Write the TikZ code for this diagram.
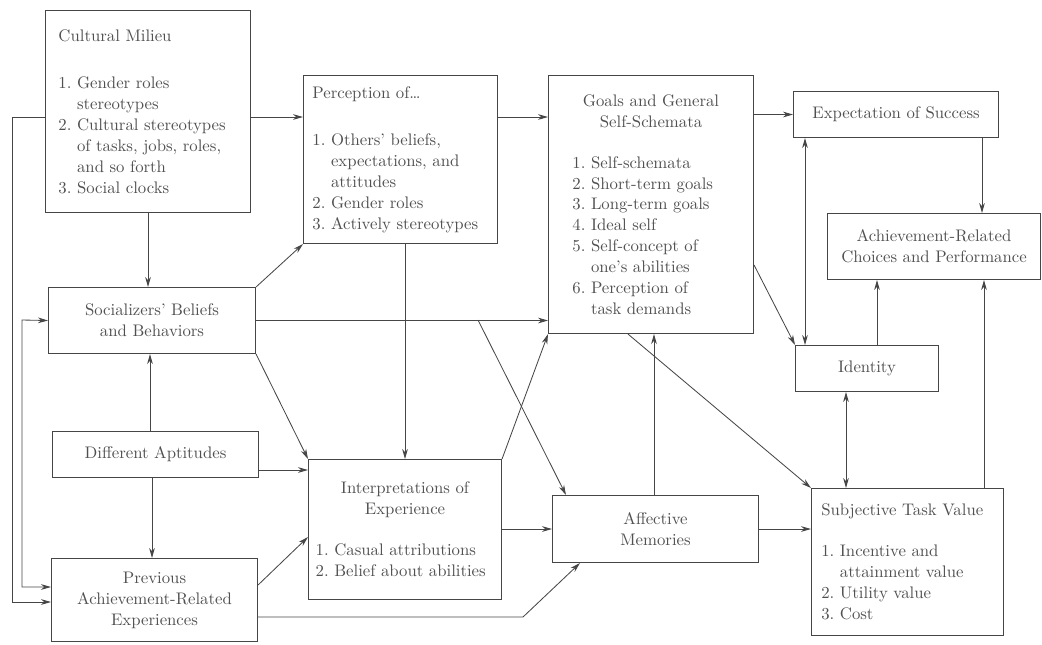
\documentclass[tikz,border=0pt]{standalone}
\usepackage{tikz}
\usetikzlibrary{arrows.meta,calc}
\definecolor{linegray}{RGB}{70,70,70}
\definecolor{textgray}{RGB}{80,80,80}

\begin{document}
\begin{tikzpicture}[x=0.021cm, y=-0.021cm,
  box/.style={draw=linegray, line width=0.6pt, inner sep=0pt, anchor=north west, text=textgray,
    font=\fontsize{10}{12.5}\selectfont\frenchspacing},
  arr/.style={draw=linegray, line width=0.5pt, -{Stealth[length=6pt,width=3.4pt]}},
  darr/.style={arr, {Stealth[length=6pt,width=3.4pt]}-{Stealth[length=6pt,width=3.4pt]}}]
\def\ind{\leavevmode\hphantom{1.}\ }
\useasboundingbox (0,0) rectangle (1042,644);

% Boxes (top left corners in pixels of the figure, y downwards)
\node[box, minimum width=4.305cm, minimum height=4.242cm, align=left, text width=3.76cm] (milieu) at (45,10)
  {Cultural Milieu\\[16pt]
  1. Gender roles\\ \ind stereotypes\\ 2. Cultural stereotypes\\
  \ind of tasks, jobs, roles,\\ \ind and so forth\\ 3. Social clocks};
\node[box, minimum width=4.074cm, minimum height=3.528cm, align=left, text width=3.7cm] (percep) at (303,75)
  {Perception of\ldots\\[16pt]
  1. Others' beliefs,\\ \ind expectations, and\\ \ind attitudes\\ 2. Gender roles\\ 3. Actively stereotypes};
\node[box, minimum width=4.305cm, minimum height=5.418cm, text width=3.3cm] (goals) at (548,75)
  {\centering Goals and General\\Self-Schemata\par
  \vspace{12pt}\raggedright 1. Self-schemata\\ 2. Short-term goals\\ 3. Long-term goals\\ 4. Ideal self\\
  5. Self-concept of\\ \ind one's abilities\\ 6. Perception of\\ \ind task demands};
\node[box, minimum width=4.305cm, minimum height=0.966cm, align=center] (expect) at (793,91)
  {Expectation of Success};
\node[box, minimum width=4.473cm, minimum height=1.386cm, align=center] (choices) at (827,213)
  {Achievement-Related\\Choices and Performance};
\node[box, minimum width=4.347cm, minimum height=1.386cm, align=center] (social) at (48,287)
  {Socializers' Beliefs\\and Behaviors};
\node[box, minimum width=3.003cm, minimum height=0.966cm, align=center] (ident) at (795,345)
  {Identity};
\node[box, minimum width=4.326cm, minimum height=0.966cm, align=center] (apt) at (52,431)
  {Different Aptitudes};
\node[box, minimum width=4.053cm, minimum height=2.94cm, text width=3.75cm] (interp) at (308,459)
  {\centering Interpretations of\\Experience\par
  \vspace{12pt}\raggedright 1. Casual attributions\\ 2. Belief about abilities};
\node[box, minimum width=4.326cm, minimum height=1.407cm, align=center] (affect) at (552,495)
  {Affective\\Memories};
\node[box, minimum width=4.032cm, minimum height=3.087cm, align=left, text width=3.62cm] (stv) at (811,488)
  {Subjective Task Value\\[12pt]
  1. Incentive and\\ \ind attainment value\\ 2. Utility value\\ 3. Cost};
\node[box, minimum width=4.326cm, minimum height=1.743cm, align=center] (prev) at (51,558)
  {Previous\\Achievement-Related\\Experiences};

% top row
\draw[arr] (milieu.east |- 0,117) -- (percep.west |- 0,117);
\draw[arr] (percep.east |- 0,117) -- (goals.west |- 0,117);
\draw[arr] (goals.east |- expect.west) -- (expect.west);

% right column
\draw[arr] (expect.south -| 982,0) -- (choices.north -| 982,0);
\draw[darr] (expect.south -| 805,0) -- (ident.north -| 805,0);
\draw[arr] (ident.north -| 877,0) -- (choices.south -| 877,0);
\draw[arr] (stv.north -| 984,0) -- (choices.south -| 984,0);
\draw[darr] (ident.south -| 846,0) -- (stv.north -| 846,0);
\draw[arr] (goals.east |- 0,265) -- (ident.north west);
\draw[arr] (goals.south -| 628,0) -- (stv.north west);

% middle
\draw[arr] (affect.north -| 654,0) -- (goals.south -| 654,0);
\draw[arr] (affect.east) -- (stv.west |- affect.east);
\draw[arr] (interp.east |- affect.west) -- (affect.west);
\draw[arr] (interp.north east) -- (goals.south west);
\draw[arr] (percep.south -| interp.north) -- (interp.north);

% socializers
\draw[arr] (milieu.south) -- (milieu.south |- social.north);
\draw[arr] (social.east) -- (goals.west |- social.east);
\coordinate (split) at (478,320);
\draw[arr] (split) -- (affect.north -| 566,0);
\draw[arr] (social.north east) -- (percep.south west);
\draw[arr] (social.south east) -- (interp.north west);

% aptitudes
\draw[arr] (apt.north -| 150,0) -- (social.south -| 150,0);
\draw[arr] (apt.south -| 152,0) -- (prev.north -| 152,0);
\draw[arr] (apt.east |- 0,470) -- (interp.west |- 0,470);

% previous experiences
\draw[arr] (prev.east |- 0,585) -- (interp.west |- 0,537);
\draw[arr] (prev.east |- 0,617) -- (523,617) -- (affect.south -| 580,0);

% loops on the left
\draw[arr] (milieu.west |- 0,117) -- (12,117) |- (prev.west |- 0,602);
\draw[darr] (social.west) -- (22,320) |- (prev.west |- 0,587);
\end{tikzpicture}
\end{document}
